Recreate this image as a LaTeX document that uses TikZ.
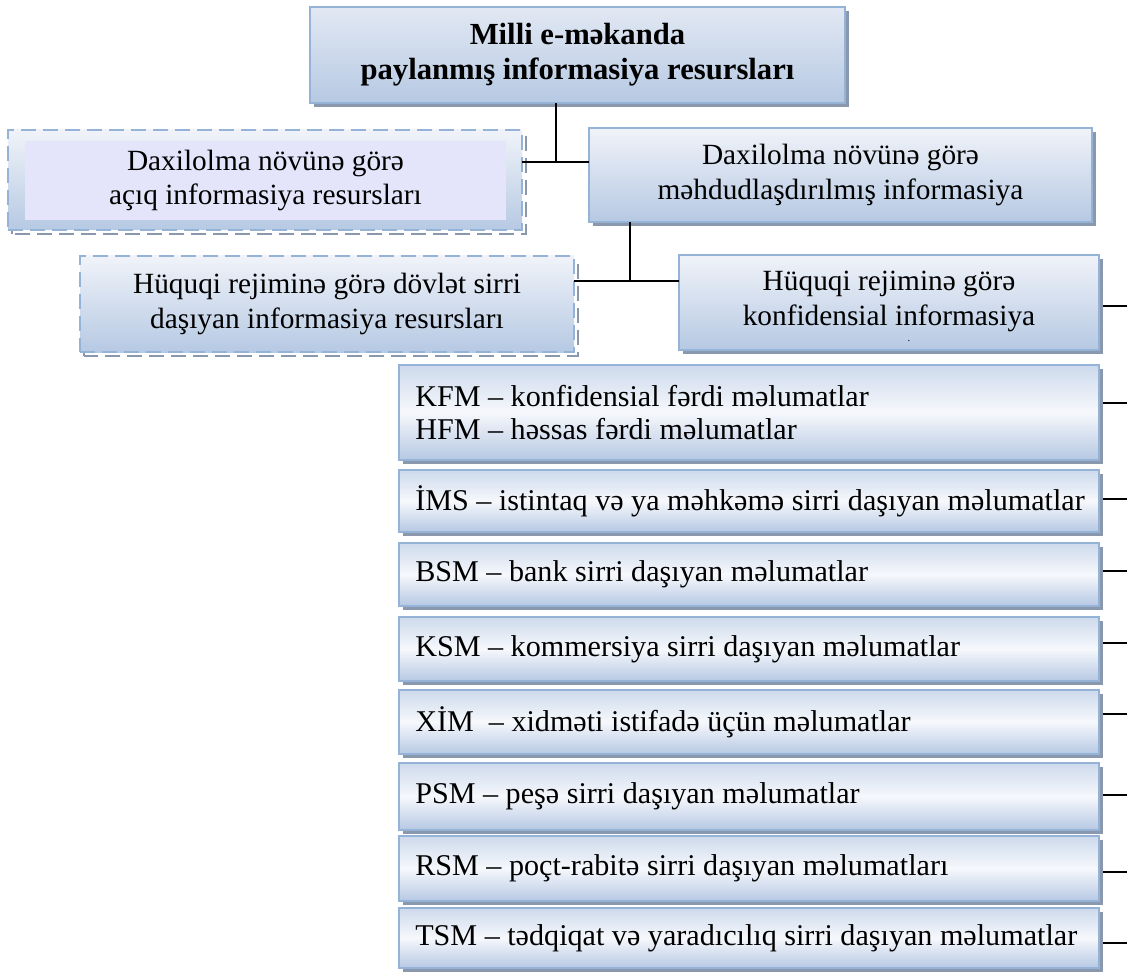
\documentclass[tikz,border=0pt]{standalone}
\usepackage{fontspec}
\setmainfont{Liberation Serif}
\usetikzlibrary{fit,backgrounds,calc}
\definecolor{bordercol}{RGB}{149,179,215}
\definecolor{shadowcol}{RGB}{138,152,174}
\definecolor{gtop}{RGB}{240,243,249}
\definecolor{gbot}{RGB}{182,201,227}
\definecolor{ttop}{RGB}{226,232,243}
\definecolor{ltop}{RGB}{205,218,236}
\definecolor{lmid}{RGB}{246,248,252}
\definecolor{lbot}{RGB}{182,200,227}
\definecolor{lav}{RGB}{228,228,250}
\tikzset{
  base/.style={inner sep=0pt, outer sep=0pt, draw=bordercol, line width=1.2pt},
  solidbox/.style={base, top color=gtop, bottom color=gbot},
  titlebox/.style={base, top color=ttop, bottom color=gbot},
  dashbox/.style={base, dash pattern=on 11pt off 5.5pt, top color=gtop, bottom color=gbot},
  innerbox/.style={inner sep=0pt, fill=lav},
  listbox/.style={base, top color=ltop, bottom color=lbot, middle color=lmid},
  ctext/.style={inner sep=0pt, align=center, font=\fontsize{22}{26}\selectfont},
  titletext/.style={inner sep=0pt, align=center, font=\fontsize{23}{26.5}\selectfont\bfseries},
  listtext/.style={anchor=west, inner sep=0pt, align=left, font=\fontsize{22.6}{24.5}\selectfont},
  conn/.style={draw=black, line width=1.4pt},
  shadowfill/.style={fill=shadowcol},
  shadowdash/.style={draw=shadowcol, line width=1.4pt, dash pattern=on 11pt off 5.5pt},
}
\newcommand{\mkshadow}[2]{%
  \begin{scope}[on background layer]
    \path[#2] ([shift={(3pt,-3pt)}]#1.south west) rectangle ([shift={(3pt,-3pt)}]#1.north east);
  \end{scope}}
\begin{document}
\begin{tikzpicture}[x=0.75pt, y=-0.75pt]
\useasboundingbox (0,0) rectangle (1127,973);

% top
\node[titlebox, fit={(310,7) (845,103)}] (T) {};
\mkshadow{T}{shadowfill}
\node[titletext] (tT) at (T.center) {Milli e-məkanda\\paylanmış informasiya resursları};

% row 1
\node[dashbox, fit={(8,130) (522,230)}] (A) {};
\mkshadow{A}{shadowdash}
\node[innerbox, fit={(25,141) (506,220)}] (Ain) {};
\node[ctext] (tA) at (Ain.center) {Daxilolma növünə görə\\açıq informasiya resursları};
\node[solidbox, fit={(589,128) (1092,222)}] (B) {};
\mkshadow{B}{shadowfill}
\node[ctext] (tB) at (B.center) {Daxilolma növünə görə\\məhdudlaşdırılmış informasiya};

% row 2
\node[dashbox, fit={(80,256) (574,352)}] (C) {};
\mkshadow{C}{shadowdash}
\node[ctext] (tC) at (C.center) {Hüquqi rejiminə görə dövlət sirri\\daşıyan informasiya resursları};
\node[solidbox, fit={(679,255) (1099,350)}] (D) {};
\mkshadow{D}{shadowfill}
\node[ctext] (tD) at ([yshift=1pt]D.center) {Hüquqi rejiminə görə\\konfidensial informasiya};
\node[inner sep=0pt, font=\fontsize{8}{8}\selectfont] (Ddot) at (909,341) {.};

% list
\node[listbox, fit={(399,365) (1099,460)}] (L1) {};
\node[listbox, fit={(399,470) (1099,532)}] (L2) {};
\node[listbox, fit={(399,543) (1099,606)}] (L3) {};
\node[listbox, fit={(399,617) (1099,681)}] (L4) {};
\node[listbox, fit={(399,690) (1099,754)}] (L5) {};
\node[listbox, fit={(399,763) (1099,830)}] (L6) {};
\node[listbox, fit={(399,836) (1099,901)}] (L7) {};
\node[listbox, fit={(399,908) (1099,968)}] (L8) {};
\foreach \n in {L1,L2,L3,L4,L5,L6,L7,L8} {\mkshadow{\n}{shadowfill}}

\node[listtext] (t1) at ([xshift=12pt]L1.west) {KFM – konfidensial fərdi məlumatlar\\HFM – həssas fərdi məlumatlar};
\node[listtext] (t2) at ([xshift=12pt]L2.west) {İMS – istintaq və ya məhkəmə sirri daşıyan məlumatlar};
\node[listtext] (t3) at ([xshift=12pt]L3.west) {BSM – bank sirri daşıyan məlumatlar};
\node[listtext] (t4) at ([xshift=12pt]L4.west) {KSM – kommersiya sirri daşıyan məlumatlar};
\node[listtext] (t5) at ([xshift=12pt]L5.west) {XİM\ \ – xidməti istifadə üçün məlumatlar};
\node[listtext] (t6) at ([xshift=12pt]L6.west) {PSM – peşə sirri daşıyan məlumatlar};
\node[listtext] (t7) at ([xshift=12pt]L7.west) {RSM – poçt-rabitə sirri daşıyan məlumatları};
\node[listtext] (t8) at ([xshift=12pt]L8.west) {TSM – tədqiqat və yaradıcılıq sirri daşıyan məlumatlar};

% connectors
\coordinate (j1) at (556,162);
\draw[conn] (T.south -| j1) -- (j1);
\draw[conn] (A.east |- j1) -- (B.west |- j1);
\coordinate (j2) at (630,281);
\draw[conn] (B.south -| j2) -- (j2);
\draw[conn] (C.east |- j2) -- (D.west |- j2);

\coordinate (eD) at (1127,306);
\coordinate (e1) at (1127,403);
\coordinate (e2) at (1127,499);
\coordinate (e3) at (1127,571);
\coordinate (e4) at (1127,643);
\coordinate (e5) at (1127,714);
\coordinate (e6) at (1127,795);
\coordinate (e7) at (1127,872);
\coordinate (e8) at (1127,943);
\draw[conn] ([xshift=3pt]D.east |- eD) -- (eD);
\draw[conn] ([xshift=3pt]L1.east |- e1) -- (e1);
\draw[conn] ([xshift=3pt]L2.east |- e2) -- (e2);
\draw[conn] ([xshift=3pt]L3.east |- e3) -- (e3);
\draw[conn] ([xshift=3pt]L4.east |- e4) -- (e4);
\draw[conn] ([xshift=3pt]L5.east |- e5) -- (e5);
\draw[conn] ([xshift=3pt]L6.east |- e6) -- (e6);
\draw[conn] ([xshift=3pt]L7.east |- e7) -- (e7);
\draw[conn] ([xshift=3pt]L8.east |- e8) -- (e8);
\end{tikzpicture}
\end{document}
